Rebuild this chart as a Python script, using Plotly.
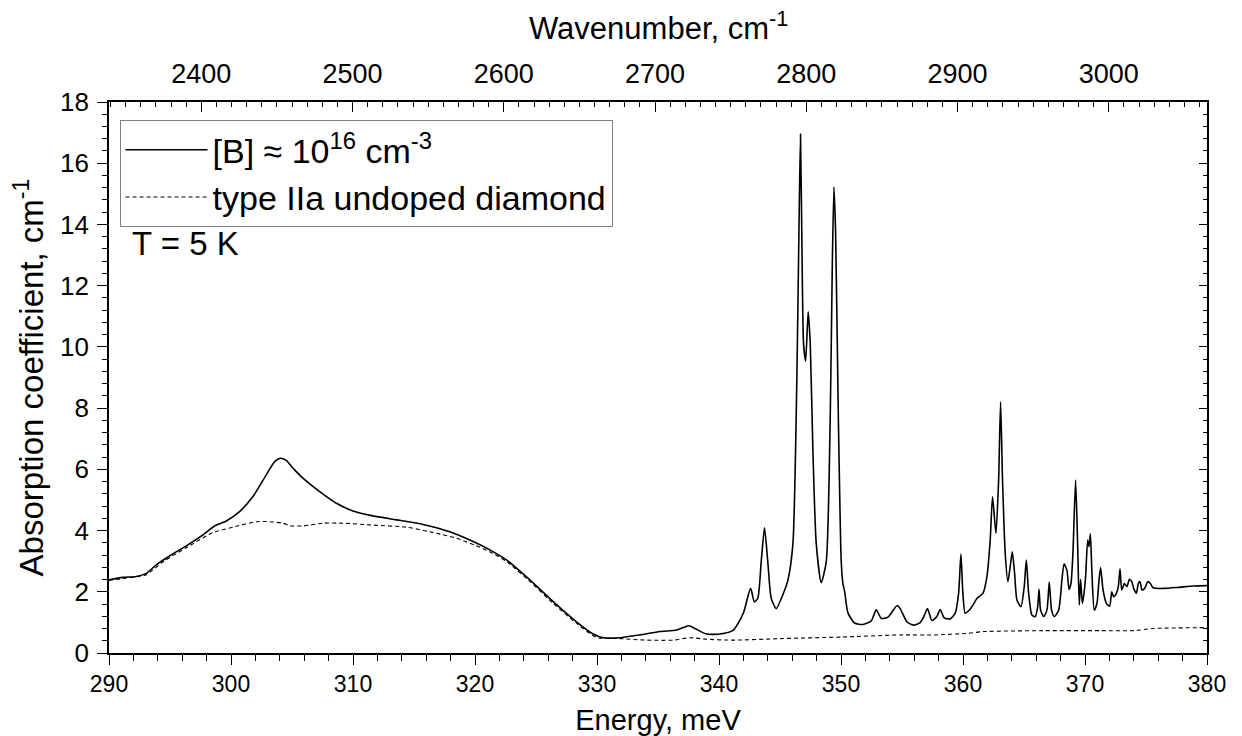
import plotly.graph_objects as go

# ---- data ----
energy_doped = [290.0, 291.13, 292.23, 293.05, 293.87, 294.96, 296.33, 297.70, 298.65, 299.61,
                300.70, 301.80, 302.89, 303.58, 304.04, 304.53, 305.08, 305.90, 307.27, 308.64,
                310.00, 311.64, 313.56, 315.74, 317.93, 319.85, 321.21, 322.58, 324.49, 326.41,
                328.32, 329.69, 330.51, 331.87, 333.52, 335.16, 336.52, 337.07, 337.54, 338.03,
                338.98, 340.08, 341.17, 341.99, 342.59, 342.90, 343.18, 343.46, 343.73, 344.00,
                344.28, 344.69, 345.24, 345.65, 346.06, 346.38, 346.55, 346.68, 346.82, 346.93,
                347.10, 347.31, 347.48, 347.70, 347.97, 348.38, 348.79, 349.12, 349.28, 349.42,
                349.56, 349.78, 350.02, 350.16, 350.29, 350.57, 351.11, 351.80, 352.48, 352.89,
                353.30, 353.85, 354.60, 354.85, 355.40, 355.94, 356.49, 356.76, 357.09, 357.45,
                357.86, 358.13, 358.46, 358.95, 359.36, 359.64, 359.83, 359.99, 360.18, 360.46,
                360.73, 361.14, 361.63, 361.96, 362.23, 362.42, 362.70, 362.92, 363.08, 363.24,
                363.46, 363.68, 363.87, 364.04, 364.23, 364.42, 364.75, 365.02, 365.19, 365.38,
                365.65, 365.92, 366.12, 366.23, 366.36, 366.61, 366.88, 367.07, 367.26, 367.48,
                367.84, 368.11, 368.28, 368.52, 368.69, 368.85, 369.01, 369.23, 369.40, 369.53,
                369.64, 369.78, 369.92, 370.05, 370.22, 370.33, 370.44, 370.57, 370.76, 370.98,
                371.15, 371.28, 371.48, 371.75, 372.02, 372.19, 372.35, 372.57, 372.73, 372.87,
                373.01, 373.23, 373.44, 373.64, 373.83, 373.99, 374.21, 374.37, 374.51, 374.67,
                374.89, 375.14, 375.36, 375.58, 376.45, 377.55, 378.91, 380.0]
alpha_doped = [2.39, 2.47, 2.50, 2.60, 2.88, 3.17, 3.50, 3.86, 4.15, 4.31,
               4.62, 5.11, 5.82, 6.25, 6.36, 6.29, 6.04, 5.71, 5.27, 4.89,
               4.64, 4.48, 4.35, 4.20, 3.96, 3.64, 3.37, 3.04, 2.39, 1.68,
               1.02, 0.62, 0.50, 0.50, 0.59, 0.70, 0.75, 0.83, 0.89, 0.80,
               0.62, 0.62, 0.75, 1.30, 2.11, 1.67, 1.79, 2.98, 4.09, 2.98,
               1.79, 1.45, 1.91, 2.38, 3.58, 8.94, 13.7, 16.95, 12.5, 10.1,
               9.54, 11.15, 10.1, 6.56, 3.58, 2.30, 2.98, 7.75, 12.5, 15.22,
               13.7, 7.75, 2.98, 2.26, 2.03, 1.31, 0.98, 0.93, 1.05, 1.41,
               1.13, 1.17, 1.55, 1.45, 1.02, 0.91, 0.99, 1.16, 1.45, 1.06,
               1.19, 1.42, 1.15, 1.11, 1.30, 1.95, 3.23, 1.95, 1.30, 1.38,
               1.51, 1.78, 1.95, 2.49, 3.69, 5.11, 3.91, 5.65, 8.21, 5.65,
               3.26, 2.33, 2.82, 3.31, 2.60, 1.73, 1.51, 2.17, 3.04, 1.95,
               1.24, 1.19, 1.51, 2.08, 1.40, 1.19, 1.40, 2.32, 1.40, 1.19,
               1.40, 2.39, 2.91, 2.70, 2.08, 2.27, 3.26, 5.65, 3.48, 1.57,
               2.41, 1.62, 1.95, 2.49, 3.69, 3.48, 3.89, 2.60, 1.40, 1.62,
               2.39, 2.79, 2.06, 1.62, 1.53, 2.00, 1.84, 1.95, 2.17, 2.75,
               2.06, 2.27, 2.17, 2.41, 2.33, 2.11, 1.95, 2.27, 2.33, 2.06,
               2.11, 2.33, 2.27, 2.13, 2.11, 2.14, 2.19, 2.20]

energy_undoped = [290.0, 291.5, 293.05, 294.5, 296.33, 298.5, 300.16, 302.07, 303.17, 304.26,
                  304.81, 305.9, 307.54, 309.18, 311.64, 314.38, 316.29, 318.48, 320.12, 321.21,
                  322.58, 324.49, 326.41, 328.32, 329.96, 331.87, 334.06, 336.25, 337.62, 338.98,
                  341.17, 345.0, 350.0, 354.85, 357.6, 360.3, 361.7, 366.6, 371.3, 374.0,
                  375.6, 380.0]
alpha_undoped = [2.38, 2.45, 2.56, 3.00, 3.44, 3.93, 4.11, 4.29, 4.29, 4.24,
                 4.16, 4.15, 4.24, 4.24, 4.18, 4.11, 3.96, 3.75, 3.50, 3.31,
                 2.99, 2.34, 1.62, 0.97, 0.51, 0.47, 0.42, 0.42, 0.50, 0.45,
                 0.42, 0.47, 0.52, 0.59, 0.59, 0.64, 0.70, 0.73, 0.73, 0.73,
                 0.80, 0.83]

energy_range = [290, 380]
alpha_range = [0, 18]
MEV_TO_CM = 8.06554  # 1 meV in cm^-1

label_doped = "[B] ≈ 10<sup>16</sup> cm<sup>-3</sup>"
label_undoped = "type IIa undoped diamond"
top_title = "Wavenumber, cm<sup>-1</sup>"

FONT = "Arial, 'Liberation Sans', sans-serif"

fig = go.Figure()
fig.add_trace(go.Scatter(x=energy_doped, y=alpha_doped, mode="lines", name=label_doped,
                         line=dict(color="black", width=1.6, shape="spline", smoothing=0.6)))
fig.add_trace(go.Scatter(x=energy_undoped, y=alpha_undoped, mode="lines", name=label_undoped,
                         line=dict(color="black", width=1.1, dash="4px,3px", shape="spline", smoothing=0.6)))
# invisible helper traces so the secondary (wavenumber / right) axes are drawn
fig.add_trace(go.Scatter(x=[e * MEV_TO_CM for e in energy_range], y=alpha_range, xaxis="x2", yaxis="y",
                         mode="lines", line=dict(color="rgba(0,0,0,0)"), showlegend=False, hoverinfo="skip"))
fig.add_trace(go.Scatter(x=energy_range, y=alpha_range, xaxis="x", yaxis="y2",
                         mode="lines", line=dict(color="rgba(0,0,0,0)"), showlegend=False, hoverinfo="skip"))

axis_common = dict(showline=True, linecolor="black", linewidth=1.6, showgrid=False, zeroline=False,
                   tickcolor="black", tickwidth=1.4, automargin=False)

fig.update_layout(
    template="none",
    width=1226, height=728,
    margin=dict(l=101, r=27, t=94, b=83),
    paper_bgcolor="white", plot_bgcolor="white",
    font=dict(family=FONT, color="black"),
    xaxis=dict(range=energy_range, dtick=10, tick0=0, ticks="outside", ticklen=10,
               minor=dict(dtick=2, ticks="outside", ticklen=6, tickcolor="black", tickwidth=1.2),
               tickfont=dict(size=23, family=FONT),
               title=dict(text="Energy, meV", font=dict(size=29, family=FONT), standoff=18),
               **axis_common),
    xaxis2=dict(range=[energy_range[0] * MEV_TO_CM, energy_range[1] * MEV_TO_CM], overlaying="x",
                side="top", anchor="y", dtick=100, tick0=0, ticks="inside", ticklen=10,
                minor=dict(dtick=10, ticks="inside", ticklen=5, tickcolor="black", tickwidth=1.2),
                tickfont=dict(size=27, family=FONT), ticklabelstandoff=6,
                **axis_common),
    yaxis=dict(range=alpha_range, dtick=2, tick0=0, ticks="outside", ticklen=10,
               minor=dict(dtick=0.4, ticks="outside", ticklen=5, tickcolor="black", tickwidth=1.2),
               tickfont=dict(size=26, family=FONT), ticklabelstandoff=3,
               title=dict(text="Absorption coefficient, cm<sup>-1</sup>", font=dict(size=33, family=FONT),
                          standoff=8),
               **axis_common),
    yaxis2=dict(range=alpha_range, overlaying="y", side="right", anchor="x", dtick=2, tick0=0,
                ticks="inside", ticklen=8, showticklabels=False,
                minor=dict(dtick=0.4, ticks="inside", ticklen=4, tickcolor="black", tickwidth=1.2),
                **axis_common),
    legend=dict(x=0.0096, y=0.967, xanchor="left", yanchor="top",
                bordercolor="#808080", borderwidth=1, bgcolor="white",
                font=dict(size=34, family=FONT), itemwidth=82, tracegroupgap=0),
    showlegend=True,
    annotations=[
        dict(text="T = 5 K", xref="paper", yref="paper", x=0.0187, y=0.744,
             xanchor="left", yanchor="middle", showarrow=False, font=dict(size=33, family=FONT)),
        dict(text=top_title, xref="paper", yref="paper", x=0.5, y=1.098,
             xanchor="center", yanchor="bottom", showarrow=False, font=dict(size=31, family=FONT)),
    ],
)

fig.write_html("out.html")
